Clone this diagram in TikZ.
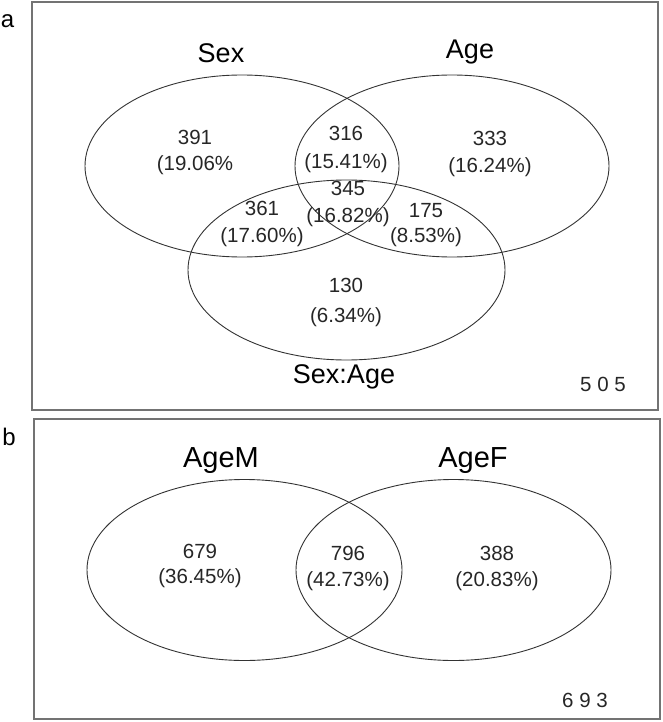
\documentclass[tikz,border=0pt]{standalone}
\usepackage{fontspec}
\setmainfont{Liberation Sans}
\usetikzlibrary{shapes.geometric}
\begin{document}
\begin{tikzpicture}[x=1pt,y=-1pt,
  panel/.style={draw=black!55, line width=1.8pt},
  venn/.style={draw=black!80, line width=0.9pt, ellipse, inner sep=0pt},
  num/.style={font=\fontsize{20.5}{24}\selectfont, inner sep=0pt, text=black!85},
  ttl/.style={font=\fontsize{27}{30}\selectfont, inner sep=0pt},
  ttlb/.style={font=\fontsize{29}{32}\selectfont, inner sep=0pt},
  tag/.style={font=\fontsize{24}{28}\selectfont, inner sep=0pt},
]
\useasboundingbox (0,0) rectangle (663,722);

% panel a
\node[tag] (la) at (7.5,21) {a};
\draw[panel] (32,2) rectangle (658,410);
\node[venn, minimum width=314pt, minimum height=182pt] (sex) at (242,166) {};
\node[venn, minimum width=314pt, minimum height=182pt] (age) at (452,166) {};
\node[venn, minimum width=317pt, minimum height=180pt] (sexage) at (346.5,270) {};
\node[ttl] (tsex) at (221,53) {Sex};
\node[ttl] (tage) at (470,52) {Age};
\node[ttl] (tsexage) at (344,377) {Sex:Age};
\node[num] (c505) at (603,384) {5 0 5};

\node[num] (n391) at (195,137) {391};
\node[num] (p391) at (195,165) {(19.06\%};
\node[num] (n316) at (346,133) {316};
\node[num] (p316) at (346,163) {(15.41\%)};
\node[num] (n333) at (490,138) {333};
\node[num] (p333) at (490,167) {(16.24\%)};
\node[num] (n345) at (348,188) {345};
\node[num] (p345) at (348,217) {(16.82\%)};
\node[num] (n361) at (262,208) {361};
\node[num] (p361) at (262,237) {(17.60\%)};
\node[num] (n175) at (426,211) {175};
\node[num] (p175) at (426,237) {(8.53\%)};
\node[num] (n130) at (346,285) {130};
\node[num] (p130) at (346,317) {(6.34\%)};

% panel b
\node[tag] (lb) at (9,437) {b};
\draw[panel] (34,419) rectangle (660,719);
\node[venn, minimum width=315pt, minimum height=181pt] (agem) at (244.5,570) {};
\node[venn, minimum width=315pt, minimum height=181pt] (agef) at (453.5,570) {};
\node[ttlb] (tagem) at (221,461) {AgeM};
\node[ttlb] (tagef) at (473,461) {AgeF};
\node[num] (c693) at (585,700) {6 9 3};

\node[num] (n679) at (200,551.5) {679};
\node[num] (p679) at (200,578) {(36.45\%)};
\node[num] (n796) at (348,553) {796};
\node[num] (p796) at (348,581.5) {(42.73\%)};
\node[num] (n388) at (497,553) {388};
\node[num] (p388) at (497,581.5) {(20.83\%)};
\end{tikzpicture}
\end{document}
